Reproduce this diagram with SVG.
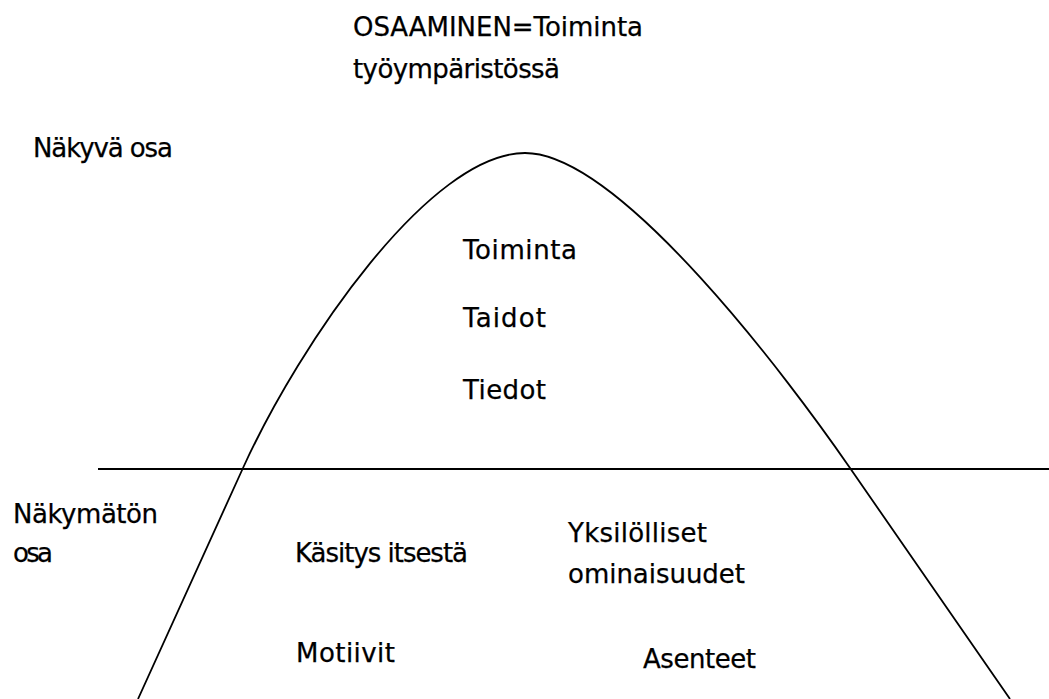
<svg xmlns="http://www.w3.org/2000/svg" width="1049" height="699" viewBox="0 0 1049 699">
<style>
text{font-family:"DejaVu Sans","Liberation Sans",sans-serif;font-size:26px;fill:#000;stroke:#000;stroke-width:0.25}
.ln{fill:none;stroke:#000}
</style>
<rect width="1049" height="699" fill="#fff"/>
<g id="connectors">
<path id="curve" class="ln" stroke-width="1.8" d="M138,699 L243,468 C300,343 430,153 525,153 C620,153 790,381 850,468 L1010,699"/>
<line id="waterline" class="ln" stroke-width="2.2" x1="98" y1="469" x2="1049" y2="469"/>
</g>
<g id="title"><text x="353" y="36" textLength="290">OSAAMINEN=Toiminta</text><text x="353" y="78" textLength="207">työympäristössä</text></g>
<g id="nakyva"><text x="33" y="157" textLength="140">Näkyvä osa</text></g>
<g id="toiminta"><text x="463" y="259" textLength="114">Toiminta</text></g>
<g id="taidot"><text x="463" y="327" textLength="83">Taidot</text></g>
<g id="tiedot"><text x="463" y="399" textLength="83">Tiedot</text></g>
<g id="nakymaton"><text x="13" y="523" textLength="145">Näkymätön</text><text x="13" y="562" textLength="40">osa</text></g>
<g id="kasitys"><text x="295" y="562" textLength="173">Käsitys itsestä</text></g>
<g id="yksilolliset"><text x="568" y="542" textLength="139">Yksilölliset</text><text x="568" y="583" textLength="177">ominaisuudet</text></g>
<g id="motiivit"><text x="296" y="662" textLength="99">Motiivit</text></g>
<g id="asenteet"><text x="643" y="668" textLength="113">Asenteet</text></g>
</svg>
